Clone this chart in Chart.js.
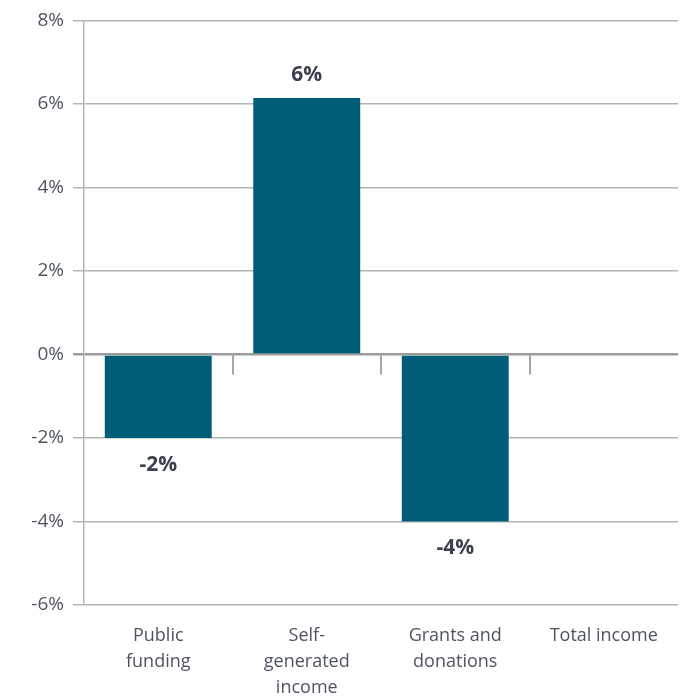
<!DOCTYPE html>
<html>
<head>
<meta charset="utf-8">
<script src="https://cdn.jsdelivr.net/npm/chart.js@4"></script>
<style>
  html, body { margin: 0; padding: 0; background: #fff; }
  #wrap { width: 686px; height: 697px; }
</style>
</head>
<body>
<div id="wrap"><canvas id="myChart"></canvas></div>
<script>
// categories and values (percent change)
var categories = [['Public', 'funding'], ['Self-', 'generated', 'income'], ['Grants and', 'donations'], ['Total income']];
var changeValues = [-2.0, 6.14, -4.0, 0];
var valueLabels = ['-2%', '6%', '-4%', ''];
var yTicks = [-6, -4, -2, 0, 2, 4, 6, 8];

var barColor = '#005d78';
var textColor = '#4f5461';
var fontFamily = "'Open Sans', sans-serif";

/* value labels above / below bars */
var valueLabelPlugin = {
    id: 'valueLabels',
    afterDatasetsDraw: function (chart) {
        var ctx = chart.ctx;
        var meta = chart.getDatasetMeta(0);
        ctx.save();
        ctx.font = 'bold 21px ' + fontFamily;
        ctx.fillStyle = '#3c4150';
        ctx.textAlign = 'center';
        ctx.textBaseline = 'middle';
        meta.data.forEach(function (bar, i) {
            var txt = valueLabels[i];
            if (!txt) return;
            var y = changeValues[i] >= 0 ? bar.y - 23 : bar.y + 27;
            ctx.fillText(txt, bar.x, y);
        });
        ctx.restore();
    }
};

/* small separator ticks under the zero line */
var separatorPlugin = {
    id: 'separators',
    afterDraw: function (chart) {
        var x = chart.scales.x, y = chart.scales.y;
        var y0 = y.getPixelForValue(0);
        var ctx = chart.ctx;
        ctx.save();
        ctx.strokeStyle = '#a6a6a6';
        ctx.lineWidth = 2;
        for (var i = 1; i < categories.length; i++) {
            var px = Math.round((x.getPixelForValue(i - 1) + x.getPixelForValue(i)) / 2);
            ctx.beginPath();
            ctx.moveTo(px, y0);
            ctx.lineTo(px, y0 + 20);
            ctx.stroke();
        }
        ctx.restore();
    }
};

var ctx = document.getElementById('myChart').getContext('2d');
var myChart = new Chart(ctx, {
    type: 'bar',
    data: {
        labels: categories,
        datasets: [{
            label: '',
            data: changeValues,
            backgroundColor: barColor,
            borderWidth: 0,
            categoryPercentage: 0.72,
            barPercentage: 1.0
        }]
    },
    options: {
        responsive: true,
        maintainAspectRatio: false,
        animation: false,
        layout: { padding: { top: 19, right: 8, left: 0, bottom: 0 } },
        plugins: {
            legend: { display: false },
            tooltip: { enabled: false }
        },
        scales: {
            x: {
                grid: { display: false },
                border: { display: false },
                ticks: {
                    color: textColor,
                    font: { family: fontFamily, size: 18, lineHeight: 1.45 },
                    padding: 10,
                    maxRotation: 0,
                    autoSkip: false
                },
                afterFit: function (scale) { scale.height = 92; }
            },
            y: {
                min: -6,
                max: 8,
                afterBuildTicks: function (scale) {
                    scale.ticks = yTicks.map(function (v) { return { value: v }; });
                },
                grid: {
                    color: function (c) { return c.tick && c.tick.value === 0 ? '#9c9c9c' : '#b4b4b4'; },
                    lineWidth: function (c) { return c.tick && c.tick.value === 0 ? 2.5 : 1.5; },
                    tickLength: 11
                },
                border: { display: true, color: '#b4b4b4', width: 1.5 },
                ticks: {
                    color: textColor,
                    font: { family: fontFamily, size: 19 },
                    padding: 9,
                    callback: function (v) { return v + '%'; }
                },
                afterFit: function (scale) { scale.width = 84; }
            }
        }
    },
    plugins: [valueLabelPlugin, separatorPlugin]
});
</script>
</body>
</html>
